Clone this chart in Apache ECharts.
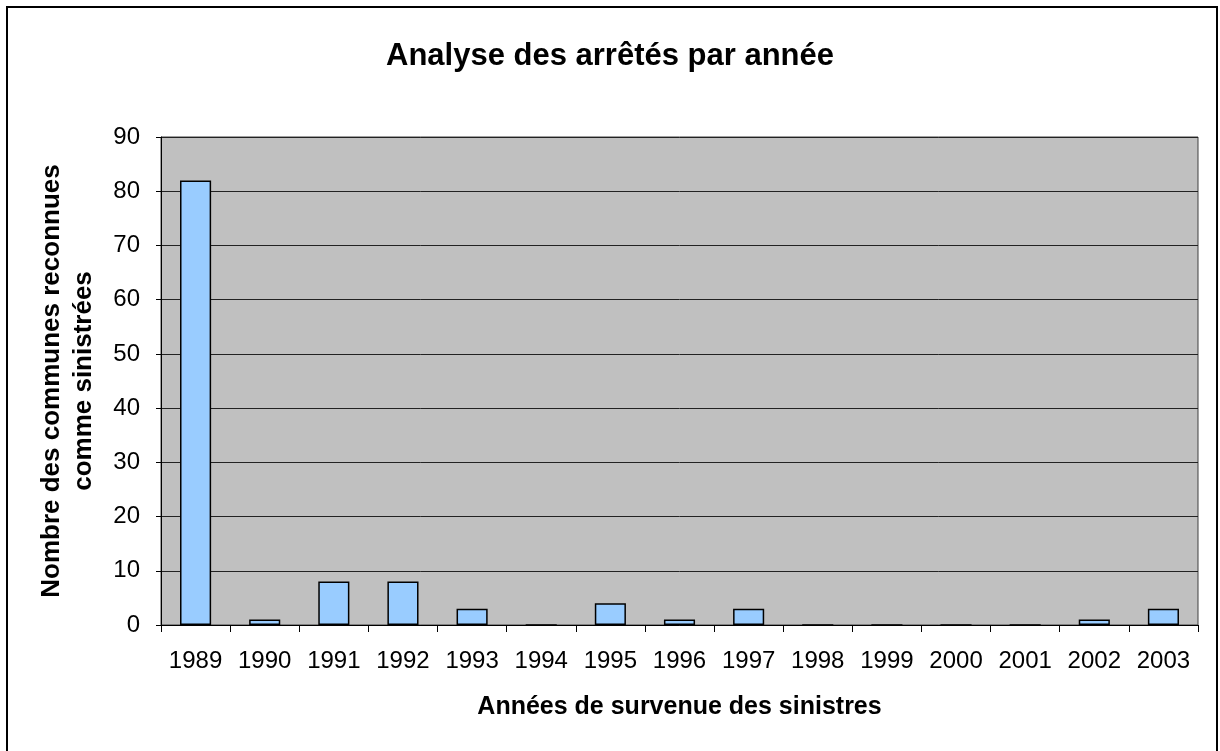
<!DOCTYPE html>
<html>
<head>
<meta charset="utf-8">
<script src="https://cdn.jsdelivr.net/npm/echarts@6/dist/echarts.min.js"></script>
<style>
html,body{margin:0;padding:0;background:#fff;}
#chart{width:1220px;height:751px;}
</style>
</head>
<body>
<div id="chart"></div>
<script>
// data
const years=['1989','1990','1991','1992','1993','1994','1995','1996','1997','1998','1999','2000','2001','2002','2003'];
const counts=[82,1,8,8,3,0,4,1,3,0,0,0,0,1,3];
const yTicks={min:0,max:90,interval:10};

const chart=echarts.init(document.getElementById('chart'),null,{renderer:'canvas'});
const FONT='"Liberation Sans", Arial, sans-serif';

chart.setOption({
  animation:false,
  backgroundColor:'#fff',
  title:{
    text:'Analyse des arrêtés par année',
    left:'center',top:36,
    textStyle:{fontFamily:FONT,fontSize:31,fontWeight:'bold',color:'#000'}
  },
  // outer frame, bottom edge falls off the picture like in the reference
  graphic:[{
    type:'rect',
    shape:{x:7,y:7,width:1210,height:760},
    style:{fill:'none',stroke:'#000',lineWidth:2},
    silent:true
  }],
  grid:{
    left:161,top:137,right:22,bottom:126,
    show:true,backgroundColor:'#C0C0C0',borderColor:'#404040',borderWidth:1
  },
  xAxis:{
    type:'category',
    data:years,
    name:'Années de survenue des sinistres',
    nameLocation:'middle',
    nameGap:70,
    nameTextStyle:{fontFamily:FONT,fontSize:25,fontWeight:'bold',color:'#000'},
    axisLine:{lineStyle:{color:'#000',width:1}},
    axisTick:{show:true,length:7,alignWithLabel:false,lineStyle:{color:'#000'}},
    axisLabel:{fontFamily:FONT,fontSize:24,color:'#000',margin:24,interval:0}
  },
  yAxis:{
    type:'value',
    min:yTicks.min,max:yTicks.max,interval:yTicks.interval,
    name:'Nombre des communes reconnues\ncomme sinistrées',
    nameLocation:'middle',
    nameGap:61,
    nameTextStyle:{fontFamily:FONT,fontSize:26,fontWeight:'bold',color:'#000',lineHeight:32,align:'center'},
    axisLine:{show:true,lineStyle:{color:'#000',width:1}},
    axisTick:{show:true,length:5,lineStyle:{color:'#000'}},
    axisLabel:{fontFamily:FONT,fontSize:24,color:'#000',margin:21},
    splitLine:{show:true,lineStyle:{color:'#222',width:1}}
  },
  series:[{
    type:'bar',
    data:counts,
    barWidth:'45%',
    itemStyle:{color:'#99CCFF',borderColor:'#000',borderWidth:1.5}
  }]
});
</script>
</body>
</html>
